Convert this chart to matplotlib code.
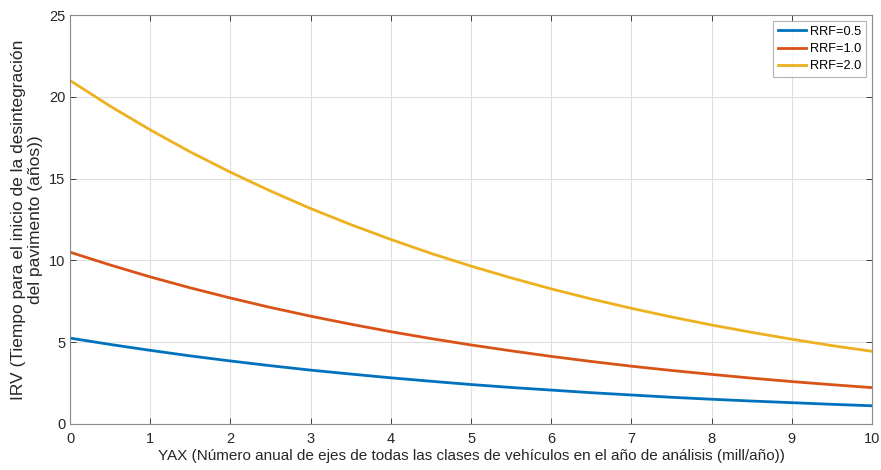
import numpy as np
import matplotlib.pyplot as plt

plt.rcParams['font.family'] = ['Liberation Sans', 'DejaVu Sans']

# YAX values [mill/año]
yax = [0.0, 0.5, 1.0, 1.5, 2.0, 2.5, 3.0, 3.5, 4.0, 4.5, 5.0,
       5.5, 6.0, 6.5, 7.0, 7.5, 8.0, 8.5, 9.0, 9.5, 10.0]

# IRV [años]
irv_rrf05 = [5.25, 4.86, 4.50, 4.16, 3.85, 3.56, 3.29, 3.05, 2.82, 2.61, 2.41,
             2.23, 2.07, 1.91, 1.77, 1.63, 1.51, 1.40, 1.30, 1.20, 1.11]
irv_rrf10 = [10.5, 9.72, 8.99, 8.32, 7.70, 7.12, 6.59, 6.10, 5.64, 5.22, 4.83,
             4.47, 4.13, 3.82, 3.53, 3.27, 3.03, 2.80, 2.59, 2.40, 2.22]
irv_rrf20 = [21.0, 19.43, 17.98, 16.63, 15.39, 14.24, 13.17, 12.19, 11.28, 10.43, 9.65,
             8.93, 8.26, 7.64, 7.07, 6.54, 6.05, 5.60, 5.18, 4.79, 4.44]
labels = ['RRF=0.5', 'RRF=1.0', 'RRF=2.0']

fig = plt.figure(figsize=(8.81, 4.7), dpi=100)
ax = fig.add_axes([0.0795, 0.098, 0.9103, 0.870])

ax.plot(yax, irv_rrf05, color='#0072BD', lw=2, label=labels[0])
ax.plot(yax, irv_rrf10, color='#D95319', lw=2, label=labels[1])
ax.plot(yax, irv_rrf20, color='#EDB120', lw=2, label=labels[2])

ax.set_xlim(0, 10)
ax.set_ylim(0, 25)
ax.set_xticks(np.arange(0, 11, 1))
ax.set_yticks(np.arange(0, 26, 5))
ax.grid(True, color='#e0e0e0', lw=0.8)
ax.set_axisbelow(True)
ax.tick_params(direction='in', top=True, right=True, labelsize=10.5,
               colors='#262626', length=4, width=0.6)
ax.tick_params(axis='x', pad=6)
for s in ax.spines.values():
    s.set_color('#8a8a8a')
    s.set_linewidth(0.8)

ax.set_xlabel('YAX (Número anual de ejes de todas las clases de vehículos en el año de análisis (mill/año))',
              fontsize=11, color='#262626', labelpad=2)
ax.set_ylabel('IRV (Tiempo para el inicio de la desintegración\ndel pavimento (años))',
              fontsize=12.5, color='#262626', labelpad=4, linespacing=1.15)

leg = ax.legend(loc='upper right', fontsize=9.2, frameon=True, fancybox=False,
                handlelength=2.2, handletextpad=0.3, borderaxespad=0.45,
                labelspacing=0.4, borderpad=0.4)
leg.get_frame().set_edgecolor('#a0a0a0')
leg.get_frame().set_linewidth(0.8)

fig.savefig('out.png', dpi=100)
